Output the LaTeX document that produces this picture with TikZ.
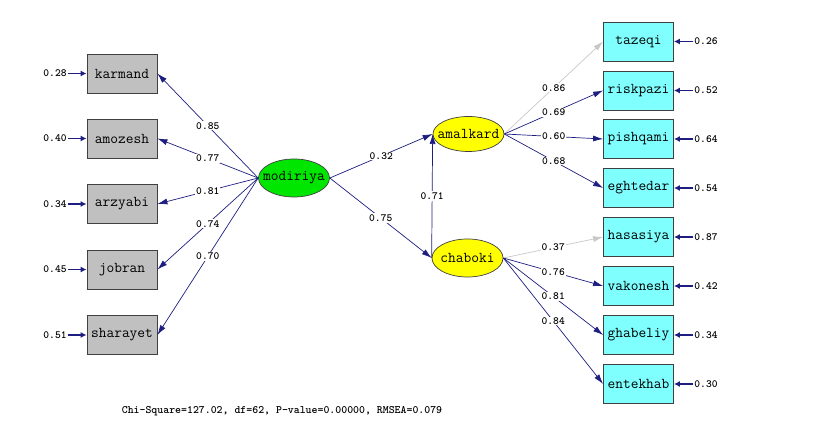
\documentclass[tikz,border=0pt]{standalone}
\usepackage{fontspec}
\usetikzlibrary{arrows.meta,shapes.geometric}
\definecolor{navy}{RGB}{30,30,128}
\definecolor{boxgray}{RGB}{192,192,192}
\definecolor{boxcyan}{RGB}{128,255,255}
\definecolor{latgreen}{RGB}{0,230,0}
\definecolor{latyellow}{RGB}{255,255,0}
\definecolor{lightpath}{RGB}{200,200,200}
\begin{document}
\begin{tikzpicture}[x=1pt,y=-1pt,
  obs/.style={draw=black!75, line width=0.8pt, minimum width=70pt, minimum height=39pt, inner sep=0pt,
    font=\ttfamily\fontsize{15}{15}\selectfont},
  lobs/.style={obs, fill=boxgray},
  robs/.style={obs, fill=boxcyan},
  lat/.style={ellipse, draw=black!75, line width=0.7pt, minimum width=71pt, minimum height=38pt, inner sep=0pt,
    font=\ttfamily\fontsize{15}{15}\selectfont},
  pth/.style={draw=navy, line width=0.7pt, -{Latex[length=10pt,width=6pt]}},
  gpth/.style={draw=lightpath, line width=0.7pt, -{Latex[length=10pt,width=6pt]}},
  lab/.style={fill=white, inner sep=1pt, font=\ttfamily\bfseries\fontsize{11}{11}\selectfont},
  errlab/.style={inner sep=1pt, font=\ttfamily\bfseries\fontsize{11}{11}\selectfont},
  err/.style={draw=navy, line width=1.5pt, -{Latex[length=6pt,width=6pt]}}
]
\useasboundingbox (0,0) rectangle (816,427);

% left observed
\node[lobs] (karmand)  at (122,73.5) {karmand};
\node[lobs] (amozesh)  at (122,138.5) {amozesh};
\node[lobs] (arzyabi)  at (122,204) {arzyabi};
\node[lobs] (jobran)   at (122,269.5) {jobran};
\node[lobs] (sharayet) at (122,335) {sharayet};

% latent
\node[lat, fill=latgreen] (mod) at (294,178) {\makebox[0pt]{modiriya}};
\node[lat, fill=latyellow, minimum height=35pt] (amal) at (468.5,134) {\makebox[0pt]{amalkard}};
\node[lat, fill=latyellow] (chab) at (467.5,258) {\makebox[0pt]{chaboki}};

% right observed
\node[robs] (tazeqi)   at (638.5,41.5) {tazeqi};
\node[robs] (riskpazi) at (638.5,90.5) {riskpazi};
\node[robs] (pishqami) at (638.5,139) {pishqami};
\node[robs] (eghtedar) at (638.5,188) {eghtedar};
\node[robs] (hasasiya) at (638.5,237) {hasasiya};
\node[robs] (vakonesh) at (638.5,286) {vakonesh};
\node[robs] (ghabeliy) at (638.5,335) {ghabeliy};
\node[robs] (entekhab) at (638.5,384) {entekhab};

% error labels left
\node[errlab] (e1) at (55,73.5) {0.28};
\node[errlab] (e2) at (55,138.5) {0.40};
\node[errlab] (e3) at (55,204) {0.34};
\node[errlab] (e4) at (55,269.5) {0.45};
\node[errlab] (e5) at (55,335) {0.51};
\draw[err] (e1.east) -- (karmand.west);
\draw[err] (e2.east) -- (amozesh.west);
\draw[err] (e3.east) -- (arzyabi.west);
\draw[err] (e4.east) -- (jobran.west);
\draw[err] (e5.east) -- (sharayet.west);

% error labels right
\node[errlab] (r1) at (706,41.5) {0.26};
\node[errlab] (r2) at (706,90.5) {0.52};
\node[errlab] (r3) at (706,139) {0.64};
\node[errlab] (r4) at (706,188) {0.54};
\node[errlab] (r5) at (706,237) {0.87};
\node[errlab] (r6) at (706,286) {0.42};
\node[errlab] (r7) at (706,335) {0.34};
\node[errlab] (r8) at (706,384) {0.30};
\draw[err] (r1.west) -- (tazeqi.east);
\draw[err] (r2.west) -- (riskpazi.east);
\draw[err] (r3.west) -- (pishqami.east);
\draw[err] (r4.west) -- (eghtedar.east);
\draw[err] (r5.west) -- (hasasiya.east);
\draw[err] (r6.west) -- (vakonesh.east);
\draw[err] (r7.west) -- (ghabeliy.east);
\draw[err] (r8.west) -- (entekhab.east);

% loadings modiriya
\draw[pth] (mod.west) -- node[lab]{0.85} (karmand.east);
\draw[pth] (mod.west) -- node[lab]{0.77} (amozesh.east);
\draw[pth] (mod.west) -- node[lab]{0.81} (arzyabi.east);
\draw[pth] (mod.west) -- node[lab]{0.74} (jobran.east);
\draw[pth] (mod.west) -- node[lab]{0.70} (sharayet.east);

% structural paths
\draw[pth] (mod.east) -- node[lab]{0.32} (amal.west);
\draw[pth] (mod.east) -- node[lab]{0.75} (chab.west);
\draw[pth] (chab.west) -- node[lab]{0.71} (amal.west);

% loadings amalkard
\draw[gpth] (amal.east) -- node[lab]{0.86} (tazeqi.west);
\draw[pth] (amal.east) -- node[lab]{0.69} (riskpazi.west);
\draw[pth] (amal.east) -- node[lab]{0.60} (pishqami.west);
\draw[pth] (amal.east) -- node[lab]{0.68} (eghtedar.west);

% loadings chaboki
\draw[gpth] (chab.east) -- node[lab]{0.37} (hasasiya.west);
\draw[pth] (chab.east) -- node[lab]{0.76} (vakonesh.west);
\draw[pth] (chab.east) -- node[lab]{0.81} (ghabeliy.west);
\draw[pth] (chab.east) -- node[lab]{0.84} (entekhab.west);

\node[errlab, font=\ttfamily\bfseries\fontsize{11.3}{11.3}\selectfont] (fit) at (282,411) {Chi-Square=127.02, df=62, P-value=0.00000, RMSEA=0.079};
\end{tikzpicture}
\end{document}
